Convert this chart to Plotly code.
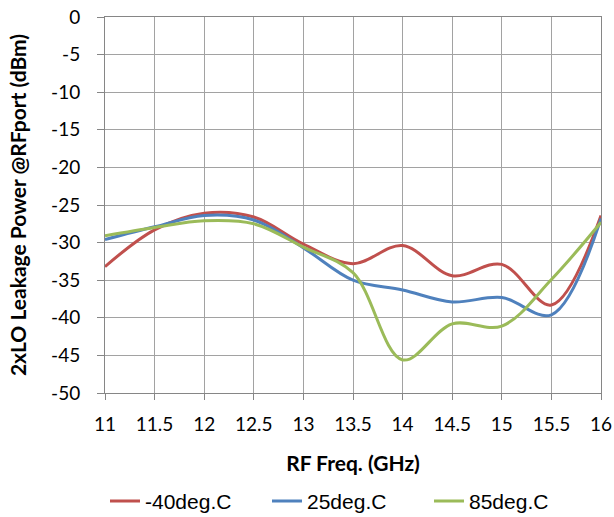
import plotly.graph_objects as go

freq = [11, 11.5, 12, 12.5, 13, 13.5, 14, 14.5, 15, 15.5, 16]
m40 = [-33.2, -28.3, -26.1, -26.6, -30.2, -32.8, -30.4, -34.4, -32.9, -38.3, -26.4]
p25 = [-29.6, -27.9, -26.4, -27.0, -30.7, -35.0, -36.3, -37.9, -37.3, -39.6, -26.8]
p85 = [-29.1, -28.0, -27.1, -27.5, -30.6, -34.0, -45.6, -40.8, -41.1, -34.9, -27.3]

x_ticks = [11, 11.5, 12, 12.5, 13, 13.5, 14, 14.5, 15, 15.5, 16]
y_ticks = [0, -5, -10, -15, -20, -25, -30, -35, -40, -45, -50]

series = [("-40deg.C", m40, "#C0504D"), ("25deg.C", p25, "#4F81BD"), ("85deg.C", p85, "#9BBB59")]

fig = go.Figure()
for name, vals, col in series:
    fig.add_trace(go.Scatter(x=freq, y=vals, name=name, mode="lines",
                             line=dict(color=col, width=3, shape="spline", smoothing=1)))

grid = "#A2A2A2"
fig.update_layout(
    width=614, height=517,
    margin=dict(l=105, r=13, t=17, b=124),
    plot_bgcolor="white", paper_bgcolor="white",
    font=dict(family="Lato", size=19, color="black"),
    legend=dict(orientation="h", x=0, xanchor="left", yref="container", y=0.07, yanchor="top",
                font=dict(family="Liberation Sans, Arial", size=21),
                entrywidth=117, traceorder="normal", itemwidth=30),
)
fig.update_xaxes(range=[11, 16], tickvals=x_ticks, ticktext=[f"{v:g}" for v in x_ticks],
                 showgrid=True, gridcolor=grid, automargin=False, ticklabeloverflow="allow",
                 showline=True, linecolor="#868686", mirror=True, ticks="outside",
                 ticklen=6, tickcolor="#868686", ticklabelstandoff=8,
                 title=dict(text="<b>RF Freq. (GHz)</b>", font=dict(family="Lato", size=21), standoff=22))
fig.update_yaxes(range=[-50, 0], tickvals=y_ticks, ticktext=[str(v) for v in y_ticks],
                 showgrid=True, gridcolor=grid, automargin=False, ticklabeloverflow="allow",
                 showline=True, linecolor="#868686", mirror=True, ticks="outside",
                 ticklen=7, tickcolor="#868686", zeroline=False, ticklabelstandoff=13,
                 title=dict(text="<b>2xLO Leakage Power @RFport (dBm)</b>", font=dict(family="Lato", size=21), standoff=18))

# drop the default page margin so the figure fills the window exactly
fig.write_html("out.html", config={"displayModeBar": False},
               post_script="document.body.style.margin='0';document.body.style.overflow='hidden';")
